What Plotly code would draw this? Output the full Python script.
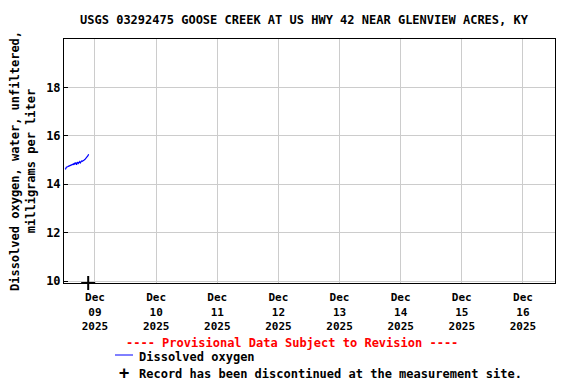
import plotly.graph_objects as go
import pandas as pd

title = "USGS 03292475 GOOSE CREEK AT US HWY 42 NEAR GLENVIEW ACRES, KY"
y_title = "Dissolved oxygen, water, unfiltered,<br>milligrams per liter"

times = pd.date_range("2025-12-08 12:15", "2025-12-08 21:30", freq="15min")
do_values = [14.62, 14.64, 14.70, 14.70, 14.72, 14.74, 14.75, 14.75, 14.76, 14.76,
             14.77, 14.80, 14.82, 14.84, 14.80, 14.88, 14.84, 14.90, 14.80, 14.88,
             14.92, 14.86, 14.90, 14.93, 14.88, 14.94, 14.96, 14.95, 14.98, 14.97,
             15.00, 15.02, 15.05, 15.08, 15.10, 15.14, 15.18, 15.24]

disc_time = ["2025-12-08 21:20"]
disc_value = [9.92]

tick_dates = pd.date_range("2025-12-09", "2025-12-16", freq="D")
tick_text = [d.strftime("%b<br>%d<br>%Y") for d in tick_dates]
y_ticks = [10, 12, 14, 16, 18]

FONT = "DejaVu Sans Mono"
FS = 12

# page body has an 8px margin; compensate so the figure fills the window
OFF = 8
L, R, T, B = 64 - OFF, 21, 39 - OFF, 101
W, H = 576 - OFF, 384 - OFF
PW, PH = W - L - R, H - T - B


def px(x):
    return (x - OFF - L) / PW


def py(y):
    return 1 - (y - OFF - T) / PH


fig = go.Figure()
fig.add_trace(go.Scatter(x=times, y=do_values, mode="lines",
                         line=dict(color="#0000ff", width=1.2), showlegend=False))
fig.add_trace(go.Scatter(x=disc_time, y=disc_value, mode="markers",
                         marker=dict(symbol="cross-thin", size=10,
                                     line=dict(color="black", width=2)),
                         cliponaxis=False, showlegend=False))

fig.update_layout(
    width=W, height=H,
    margin=dict(l=L, r=R, t=T, b=B, autoexpand=False),
    paper_bgcolor="white", plot_bgcolor="white",
    font=dict(family=FONT, size=FS, color="black"),
    title=dict(text="<b>" + title + "</b>", x=(304 - OFF) / W, xref="container",
               xanchor="center", y=1 - (20 - OFF) / H, yref="container",
               yanchor="middle", font=dict(size=FS)),
)
fig.update_xaxes(
    range=["2025-12-08 11:50", "2025-12-16 12:35"],
    tickvals=tick_dates, ticktext=["<b>" + t + "</b>" for t in tick_text],
    showgrid=True, gridcolor="#cccccc", gridwidth=1,
    showline=True, linecolor="black", linewidth=1, mirror=True,
    ticks="", tickfont=dict(size=11), zeroline=False, automargin=False,
    ticklabelstandoff=4,
)
fig.update_yaxes(
    range=[9.92, 20.0],
    tickvals=y_ticks, ticktext=["<b>%d</b>" % v for v in y_ticks],
    showgrid=True, gridcolor="#cccccc", gridwidth=1,
    showline=True, linecolor="black", linewidth=1, mirror=True,
    ticks="inside", ticklen=4, tickcolor="black",
    tickfont=dict(size=FS), zeroline=False, automargin=False,
    title=dict(text="<b>" + y_title + "</b>", font=dict(size=FS), standoff=12),
)

fig.add_annotation(text="<b>---- Provisional Data Subject to Revision ----</b>",
                   xref="paper", yref="paper", x=px(292), y=py(343),
                   xanchor="center", yanchor="middle", showarrow=False,
                   font=dict(color="red", size=FS))
fig.add_annotation(text="<b>Dissolved oxygen</b>", xref="paper", yref="paper",
                   x=px(137), y=py(357), xanchor="left",
                   yanchor="middle", showarrow=False, font=dict(size=FS))
fig.add_annotation(text="<b>Record has been discontinued at the measurement site.</b>",
                   xref="paper", yref="paper",
                   x=px(137), y=py(374), xanchor="left",
                   yanchor="middle", showarrow=False, font=dict(size=FS))
fig.add_annotation(text="<b>+</b>", xref="paper", yref="paper",
                   x=px(124), y=py(373), xanchor="center",
                   yanchor="middle", showarrow=False, font=dict(size=17))
fig.add_shape(type="line", xref="paper", yref="paper",
              x0=px(115), x1=px(133), y0=py(355), y1=py(355),
              line=dict(color="#0000ff", width=1))

fig.write_html("out.html")
